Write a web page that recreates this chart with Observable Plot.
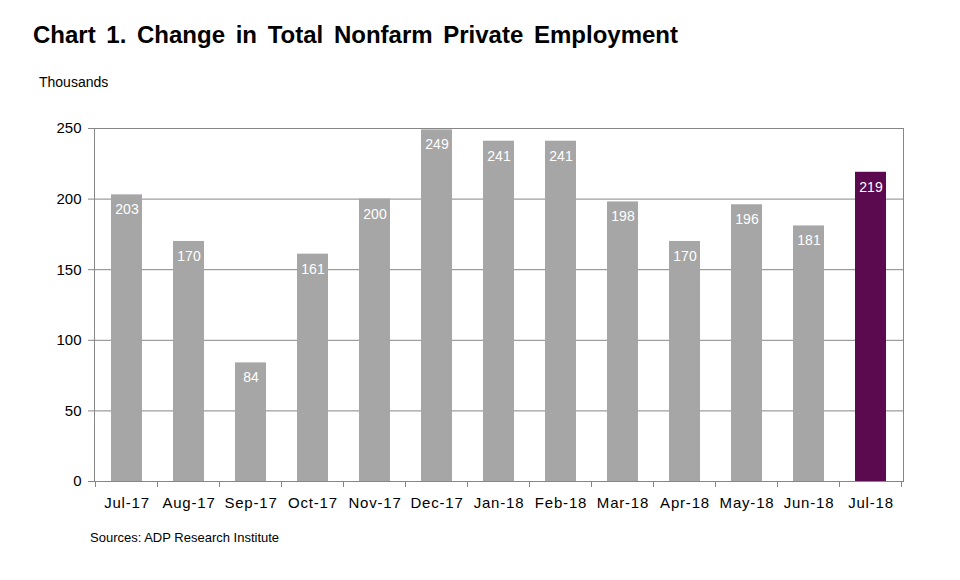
<!DOCTYPE html>
<html><head><meta charset="utf-8">
<script src="https://cdn.jsdelivr.net/npm/d3@7"></script>
<script src="https://cdn.jsdelivr.net/npm/@observablehq/plot@0.6"></script>
<style>
body{margin:0;background:#fff;font-family:"Liberation Sans",Arial,sans-serif;color:#000;}
#wrap{position:relative;width:960px;height:580px;overflow:hidden;}
#title{position:absolute;left:33px;top:21px;font-size:24px;font-weight:bold;white-space:nowrap;word-spacing:4px;}
#units{position:absolute;left:39px;top:74px;font-size:14px;}
#chart{position:absolute;left:0;top:95px;}
#src{position:absolute;left:90px;top:530px;font-size:13px;}
#chart svg g[aria-label="x-axis tick label"] text{letter-spacing:0.8px;}
</style></head>
<body>
<div id="wrap">
  <div id="title">Chart 1. Change in Total Nonfarm Private Employment</div>
  <div id="units">Thousands</div>
  <div id="chart"></div>
  <div id="src">Sources: ADP Research Institute</div>
</div>
<script>
const months = ["Jul-17","Aug-17","Sep-17","Oct-17","Nov-17","Dec-17","Jan-18","Feb-18","Mar-18","Apr-18","May-18","Jun-18","Jul-18"];
const values = [203,170,84,161,200,249,241,241,198,170,196,181,219];
const highlight = "Jul-18";
const yTicks = [0,50,100,150,200,250];

const data = months.map((m,i)=>({month:m, value:values[i]}));
const grayBar = "#a6a6a6", purpleBar = "#5c0a50", lineColor = "#868686";

function boundaryTicks(index, scales, values, dimensions){
  const x = scales.x;
  const step = x(months[1]) - x(months[0]);
  const gap = step * 0.25;
  const g = d3.create("svg:g").attr("stroke", lineColor).attr("stroke-width", 1);
  const y0 = dimensions.height - dimensions.marginBottom;
  const xs = months.map(m => x(m) - gap);
  xs.push(x(months[months.length-1]) + step - gap);
  for (const px of xs) {
    g.append("line").attr("x1", px).attr("x2", px).attr("y1", y0).attr("y2", y0 + 6);
  }
  return g.node();
}

const chart = Plot.plot({
  width: 960,
  height: 430,
  marginTop: 33,
  marginBottom: 44,
  marginLeft: 94,
  marginRight: 57,
  style: {fontFamily: '"Liberation Sans", Arial, sans-serif', color: "#000", background: "#fff"},
  x: {domain: months, paddingInner: 0.5, paddingOuter: 0.25, label: null},
  y: {domain: [0, 250], label: null},
  marks: [
    Plot.gridY(yTicks, {stroke: lineColor, strokeOpacity: 1}),
    Plot.barY(data, {x: "month", y: "value", fill: d => d.month === highlight ? purpleBar : grayBar}),
    Plot.frame({stroke: lineColor}),
    Plot.axisY({ticks: yTicks, tickSize: 6, tickPadding: 7, fontSize: 15, stroke: lineColor, label: null}),
    Plot.axisX({tickSize: 0, tickPadding: 16, fontSize: 15, label: null}),
    boundaryTicks,
    Plot.text(data, {x: "month", y: "value", text: d => String(d.value), dy: 15, fill: "#fff", fontSize: 14})
  ]
});
document.getElementById("chart").appendChild(chart);
</script>
</body></html>
